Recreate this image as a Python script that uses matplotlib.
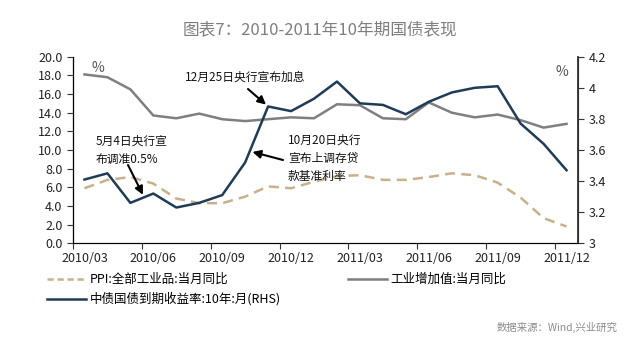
import matplotlib
matplotlib.use("Agg")
import matplotlib.pyplot as plt
from matplotlib.lines import Line2D

plt.rcParams['font.family'] = ['Noto Sans CJK SC', 'DejaVu Sans']

# monthly data, 2010/03 - 2011/12
months = list(range(22))
tick_pos = [0, 3, 6, 9, 12, 15, 18, 21]
tick_labels = ['2010/03', '2010/06', '2010/09', '2010/12',
               '2011/03', '2011/06', '2011/09', '2011/12']

ppi = [5.9, 6.8, 7.1, 6.4, 4.8, 4.3, 4.3, 5.0, 6.1, 5.9, 6.6,
       7.2, 7.3, 6.8, 6.8, 7.1, 7.5, 7.3, 6.5, 4.9, 2.7, 1.8]
iva = [18.1, 17.8, 16.5, 13.7, 13.4, 13.9, 13.3, 13.1, 13.3, 13.5, 13.4,
       14.9, 14.8, 13.4, 13.3, 15.1, 14.0, 13.5, 13.8, 13.2, 12.4, 12.8]
yld = [3.41, 3.45, 3.26, 3.32, 3.23, 3.26, 3.31, 3.52, 3.88, 3.85, 3.93,
       4.04, 3.90, 3.89, 3.83, 3.91, 3.97, 4.00, 4.01, 3.77, 3.64, 3.47]

C_PPI = '#C8B08C'
C_IVA = '#7F7F7F'
C_YLD = '#1F3B56'

W, H = 640, 346
fig = plt.figure(figsize=(W / 100, H / 100), dpi=100)
ax = fig.add_axes([73 / W, (H - 243.3) / H, (578 - 73) / W, (243.3 - 56.7) / H])
ax2 = ax.twinx()

ax.plot(months, ppi, color=C_PPI, lw=1.8, ls=(0, (4, 2.5)))
ax.plot(months, iva, color=C_IVA, lw=1.8)
ax2.plot(months, yld, color=C_YLD, lw=1.8)

ax.set_xlim(-0.5, 21.5)
ax.set_ylim(0, 20)
ax2.set_ylim(3, 4.2)
ax.set_yticks([i * 2 for i in range(11)])
ax.set_yticklabels(['%.1f' % (i * 2) for i in range(11)])
ax2.set_yticks([3, 3.2, 3.4, 3.6, 3.8, 4, 4.2])
ax2.set_yticklabels(['3', '3.2', '3.4', '3.6', '3.8', '4', '4.2'])

# tick marks between months, labels at month centres
ax.set_xticks([p - 0.5 for p in tick_pos])
ax.set_xticklabels([])
ax.set_xticks(tick_pos, minor=True)
ax.set_xticklabels(tick_labels, minor=True)
ax.tick_params(axis='x', which='minor', length=0, pad=6)
ax.tick_params(axis='x', which='major', length=4, color='#333333')

for a in (ax, ax2):
    a.spines['top'].set_visible(False)
ax.spines['left'].set_color('#8C8C8C')
ax.spines['bottom'].set_color('#333333')
ax2.spines['right'].set_color('#333333')
ax2.spines['right'].set_linewidth(1.3)
ax.spines['left'].set_linewidth(1.0)
ax.tick_params(axis='y', length=4, color='#333333', labelsize=9, labelcolor='#222222')
ax2.tick_params(axis='y', length=4, color='#333333', labelsize=9, labelcolor='#222222')
ax.tick_params(axis='x', which='minor', labelsize=9, labelcolor='#222222')

def px(x, y):
    return x / W, 1 - y / H

fig.text(*px(320, 30), '图表7：2010-2011年10年期国债表现', ha='center', va='center',
         fontsize=12, color='#7F7F7F')
fig.text(*px(98, 68), '%', ha='center', va='center', fontsize=10, color='#555555')
fig.text(*px(562, 72), '%', ha='center', va='center', fontsize=10, color='#555555')

fig.text(*px(185, 77), '12月25日央行宣布加息', ha='left', va='center', fontsize=8.5, color='#111111')
fig.text(*px(96, 150), '5月4日央行宣\n布调准0.5%', ha='left', va='center', fontsize=8.5,
         color='#111111', linespacing=1.5)
fig.text(*px(288, 158), '10月20日央行\n宣布上调存贷\n款基准利率', ha='left', va='center', fontsize=8.5,
         color='#111111', linespacing=1.5)

arrow = dict(arrowstyle='-|>', color='black', lw=1.5, mutation_scale=12, shrinkA=0, shrinkB=2)
ax2.annotate('', xy=(8, yld[8]), xytext=(248, H - 89), textcoords='figure pixels', arrowprops=arrow)
ax2.annotate('', xy=(7.2, yld[7] + 0.2 * (yld[8] - yld[7])), xytext=(283, H - 160),
             textcoords='figure pixels', arrowprops=arrow)
ax2.annotate('', xy=(2.6, yld[2] + 0.6 * (yld[3] - yld[2])), xytext=(128, H - 165),
             textcoords='figure pixels', arrowprops=arrow)

handles = [Line2D([], [], color=C_PPI, lw=1.8, ls=(0, (2.5, 1.5))),
           Line2D([], [], color=C_YLD, lw=1.8),
           Line2D([], [], color=C_IVA, lw=1.8)]
labels = ['PPI:全部工业品:当月同比', '中债国债到期收益率:10年:月(RHS)', '工业增加值:当月同比']
fig.legend(handles, labels, ncol=2, loc='upper left', bbox_to_anchor=px(47, 273),
           frameon=False, fontsize=9, handlelength=3.1, handletextpad=0.3,
           columnspacing=5.4, labelspacing=0.5, borderpad=0, borderaxespad=0)

fig.text(*px(617, 327), '数据来源：Wind,兴业研究', ha='right', va='center', fontsize=7.5, color='#8C8C8C')

fig.savefig('out.png', dpi=100)
